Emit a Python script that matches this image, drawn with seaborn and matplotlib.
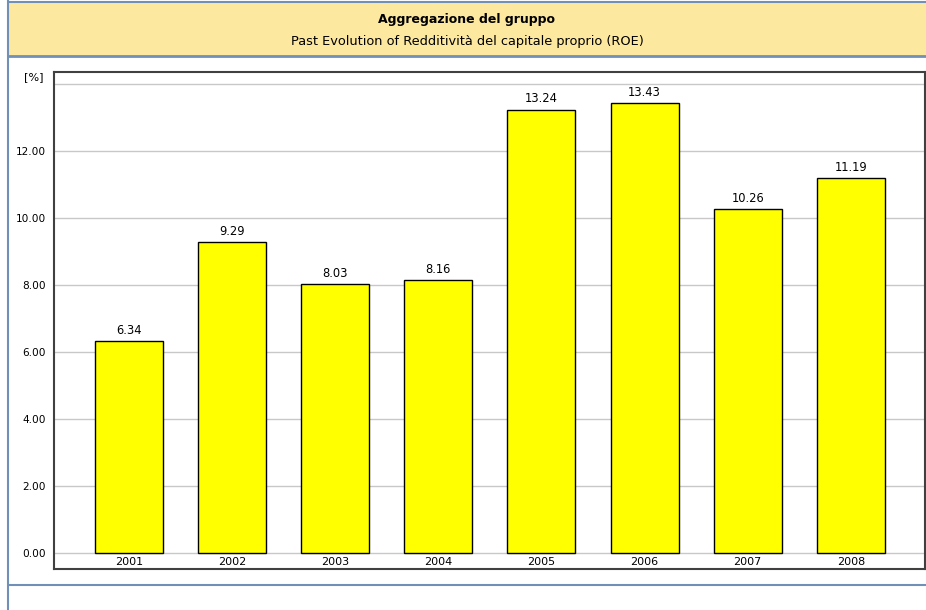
import numpy as np
import pandas as pd
import matplotlib
matplotlib.use("Agg")
import matplotlib.pyplot as plt
from matplotlib.patches import Rectangle
from matplotlib.lines import Line2D
import seaborn as sns

# dati
anni = ["2001", "2002", "2003", "2004", "2005", "2006", "2007", "2008"]
roe = [6.34, 9.29, 8.03, 8.16, 13.24, 13.43, 10.26, 11.19]
yticks = [0, 2, 4, 6, 8, 10, 12, 14]

df = pd.DataFrame({"anno": anni, "roe": roe})

sns.set_style("white")
plt.rcParams["font.family"] = ["DejaVu Sans"]
plt.rcParams["text.color"] = "black"
plt.rcParams["xtick.color"] = "black"
plt.rcParams["ytick.color"] = "black"

W, H = 926, 610
fig = plt.figure(figsize=(W / 100, H / 100), dpi=100)

# intestazione
blu = "#7090B8"
fig.patches.append(Rectangle((8 / W, 1 - 56 / H), 1 - 8 / W, 56 / H - 1 / H,
                             transform=fig.transFigure, facecolor="#FDE8A0",
                             edgecolor="none", zorder=0))
fig.lines.append(Line2D([8 / W, 1], [1 - 56 / H] * 2, transform=fig.transFigure, color=blu, lw=2))
fig.lines.append(Line2D([8 / W, 1], [1 - 1.5 / H] * 2, transform=fig.transFigure, color=blu, lw=1.5))
fig.lines.append(Line2D([8 / W] * 2, [0, 1], transform=fig.transFigure, color=blu, lw=1.5))
fig.lines.append(Line2D([8 / W, 1], [1 - 585 / H] * 2, transform=fig.transFigure, color=blu, lw=1.5))
fig.text(0.5 + 4 / W, 1 - 19 / H, "Aggregazione del gruppo", ha="center", va="center",
         fontsize=9, fontweight="bold")
fig.text(0.5 + 4 / W, 1 - 41 / H, "Past Evolution of Redditività del capitale proprio (ROE)",
         ha="center", va="center", fontsize=9.3)

# grafico
ax = fig.add_axes([54 / W, (H - 569) / H, (925 - 54) / W, (569 - 72) / H])
sns.barplot(data=df, x="anno", y="roe", color="#FFFF00", edgecolor="black",
            linewidth=1, width=0.66, saturation=1, ax=ax, zorder=3)
ax.set_xlim(-0.728, 7.72)
ax.set_ylim(-0.48, 14.36)
ax.set_yticks(yticks)
ax.set_yticklabels([f"{v:.2f}" if v < 14 else "" for v in yticks], fontsize=7.6)
ax.yaxis.grid(True, color="#C8C8C8", lw=1, zorder=0)
ax.set_axisbelow(True)
ax.tick_params(axis="y", length=0, pad=6)
ax.tick_params(axis="x", length=0, pad=-8.6, labelsize=8)
ax.set_xlabel("")
ax.set_ylabel("")
for s in ax.spines.values():
    s.set_color("#404040")
    s.set_linewidth(1.5)

for i, v in enumerate(roe):
    ax.text(i, v + 0.12, f"{v:.2f}", ha="center", va="bottom", fontsize=8.3)

ax.text(-0.012, 1.0, "[%]", transform=ax.transAxes, ha="right", va="top", fontsize=8)

fig.savefig("out.png", dpi=100)
